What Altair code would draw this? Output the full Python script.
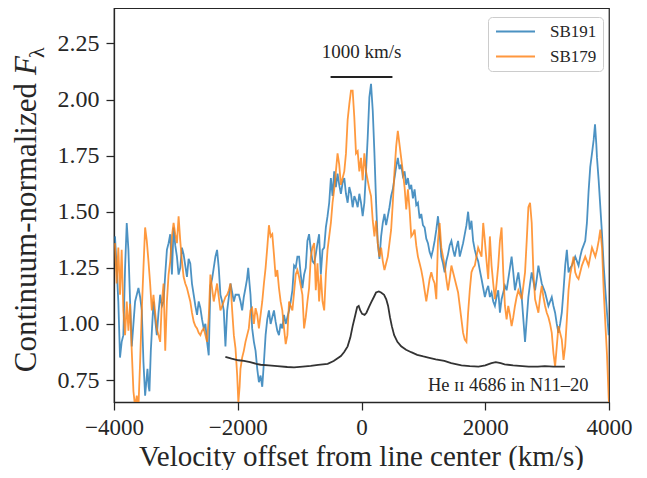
import altair as alt
import pandas as pd

# ---------------- data ----------------
sb191_v = [-3984, -3957, -3930, -3903, -3876, -3849, -3821, -3794, -3767, -3740, -3713, -3686, -3659, -3605,
           -3578, -3551, -3524, -3497, -3478, -3459, -3440, -3427, -3405, -3362, -3335, -3308, -3281, -3254,
           -3226, -3199, -3172, -3145, -3118, -3091, -3064, -3037, -3010, -2983, -2956, -2929, -2902, -2875,
           -2848, -2821, -2794, -2767, -2740, -2712, -2685, -2658, -2631, -2604, -2577, -2550, -2523, -2496,
           -2469, -2442, -2415, -2388, -2361, -2334, -2307, -2280, -2253, -2226, -2199, -2171, -2144, -2117,
           -2090, -2063, -2036, -2009, -1983, -1955, -1929, -1902, -1875, -1850, -1831, -1810, -1794, -1767,
           -1739, -1712, -1685, -1658, -1631, -1604, -1577, -1550, -1523, -1496, -1469, -1442, -1415, -1388,
           -1361, -1334, -1307, -1280, -1252, -1225, -1198, -1171, -1144, -1117, -1090, -1063, -1036, -1009,
           -982, -955, -928, -901, -874, -847, -819, -793, -765, -739, -711, -685, -657, -630, -603, -576,
           -549, -522, -495, -468, -441, -414, -387, -360, -333, -305, -278, -251, -224, -197, -170, -143,
           -116, -89, -62, -35, -8, 19, 46, 73, 100, 127, 154, 182, 209, 236, 263, 290, 317, 344, 371, 398,
           425, 452, 479, 506, 533, 560, 587, 614, 641, 668, 696, 723, 750, 777, 804, 831, 858, 885, 912,
           939, 966, 993, 1020, 1047, 1074, 1101, 1128, 1155, 1182, 1209, 1236, 1263, 1290, 1317, 1344,
           1371, 1398, 1425, 1453, 1480, 1507, 1534, 1561, 1588, 1615, 1642, 1669, 1696, 1723, 1750, 1777,
           1804, 1831, 1858, 1885, 1912, 1940, 1967, 1994, 2021, 2048, 2075, 2102, 2129, 2156, 2183, 2210,
           2237, 2264, 2291, 2318, 2345, 2372, 2399, 2426, 2453, 2480, 2507, 2535, 2562, 2589, 2616, 2643,
           2670, 2697, 2724, 2751, 2778, 2805, 2832, 2859, 2886, 2913, 2940, 2967, 2994, 3021, 3048, 3075,
           3102, 3129, 3156, 3183, 3210, 3237, 3265, 3292, 3319, 3346, 3373, 3400, 3427, 3454, 3481, 3508,
           3535, 3562, 3589, 3616, 3643, 3670, 3697, 3725, 3752, 3774, 3795, 3806, 3833, 3860, 3887, 3914,
           3941, 3968, 3995, 4010, 4030]
sb191_f = [1.39, 1.25, 1.10, 0.85, 0.92, 0.95, 1.25, 1.45, 1.33, 1.10, 0.90, 1.00, 1.10, 1.16,
           1.12, 1.06, 0.83, 0.68, 0.74, 0.80, 0.72, 0.70, 0.88, 1.10, 1.02, 0.95, 1.05, 1.13,
           1.08, 1.10, 1.22, 1.33, 1.36, 1.40, 1.22, 1.43, 1.35, 1.30, 1.22, 1.25, 1.34, 1.31,
           1.26, 1.21, 1.29, 1.27, 1.18, 1.13, 1.08, 1.04, 1.10, 1.07, 1.02, 0.98, 1.00, 0.92,
           0.86, 1.17, 1.20, 1.25, 1.30, 1.33, 1.25, 1.13, 1.10, 1.06, 0.90, 1.06, 1.12, 1.18,
           1.14, 1.10, 1.13, 1.13, 1.13, 1.10, 1.06, 1.12, 1.16, 1.20, 1.25, 1.18, 1.13, 0.98,
           0.92, 0.88, 0.80, 0.74, 0.77, 0.72, 0.83, 0.95, 1.02, 1.06, 1.00, 1.03, 1.06, 1.01,
           0.97, 0.95, 1.00, 0.98, 1.04, 1.00, 1.03, 1.06, 1.10, 1.15, 1.26, 1.25, 1.30, 1.30,
           1.22, 1.16, 1.22, 1.25, 1.37, 1.40, 1.33, 1.28, 1.27, 1.31, 1.36, 1.40, 1.22, 1.33, 1.34, 1.43,
           1.48, 1.54, 1.65, 1.57, 1.68, 1.61, 1.67, 1.62, 1.58, 1.63, 1.65, 1.58, 1.54, 1.61, 1.58, 1.52,
           1.57, 1.55, 1.52, 1.58, 1.54, 1.48, 1.54, 1.68, 1.83, 2.01, 2.07, 1.95, 1.76, 1.54, 1.36, 1.29,
           1.39, 1.45, 1.49, 1.44,
           1.48, 1.52, 1.57, 1.60, 1.65, 1.70, 1.74, 1.69, 1.71, 1.66, 1.68, 1.62, 1.65, 1.60, 1.62, 1.56,
           1.60, 1.53, 1.54,
           1.47, 1.49, 1.44, 1.43, 1.38, 1.36, 1.32, 1.30, 1.33, 1.37, 1.42, 1.48, 1.40, 1.30, 1.27, 1.23,
           1.28, 1.31, 1.35, 1.37, 1.33, 1.30, 1.34, 1.37, 1.30, 1.33, 1.36, 1.40, 1.44, 1.50, 1.42, 1.46,
           1.37, 1.33, 1.30, 1.28, 1.24, 1.20, 1.16, 1.12, 1.15, 1.17, 1.12, 1.14, 1.10, 1.08, 1.12, 1.15,
           1.05, 1.11, 1.14, 1.17, 1.15, 1.20, 1.25, 1.30, 1.23, 1.15, 1.19, 1.23, 1.17, 1.12, 1.02, 0.92,
           1.02, 1.12, 1.18, 1.23, 1.19, 1.15, 1.20, 1.26, 1.22, 1.18, 1.16, 1.14, 1.11, 1.08, 1.10, 1.12,
           1.08, 1.05, 1.00, 0.96, 1.00, 1.05, 1.15, 1.26, 1.33, 1.23, 1.25, 1.26, 1.28, 1.30, 1.28, 1.26,
           1.30, 1.33, 1.35, 1.37, 1.45, 1.59, 1.70, 1.76, 1.82, 1.89, 1.80, 1.74, 1.64, 1.52, 1.40, 1.26,
           1.15, 1.05, 0.95, 1.00, 0.90]

sb179_v = [-3984, -3957, -3930, -3903, -3876, -3849, -3821, -3794, -3767, -3740, -3713, -3686, -3659, -3632,
           -3605, -3578, -3551, -3524, -3497, -3470, -3443, -3416, -3389, -3362, -3335, -3308, -3281, -3254,
           -3226, -3199, -3172, -3145, -3118, -3091, -3064, -3037, -3010, -2983, -2956, -2929, -2902, -2875,
           -2848, -2821, -2794, -2767, -2740, -2712, -2685, -2658, -2631, -2604, -2577, -2550, -2523, -2496,
           -2469, -2442, -2415, -2388, -2361, -2334, -2307, -2280, -2253, -2226, -2199, -2171, -2144, -2117,
           -2090, -2063, -2036, -2009, -1990, -1970, -1956, -1929, -1902, -1875, -1848, -1821, -1794, -1767,
           -1739, -1712, -1685, -1658, -1631, -1604, -1577, -1550, -1523, -1496, -1469, -1442, -1415, -1388,
           -1361, -1334, -1307, -1280, -1252, -1225, -1198, -1171, -1144, -1117, -1090, -1063, -1036, -1009,
           -982, -955, -928, -901, -874, -847, -819, -793, -765, -739, -711, -685, -657, -630, -603, -576,
           -549, -522, -495, -468, -441, -414, -387, -360, -333, -305, -278, -251, -224, -197, -170, -143,
           -116, -89, -62, -35, -8, 19, 46, 73, 100, 127, 154, 182, 209, 236, 263, 290, 317, 344, 371, 398,
           425, 452, 479, 506, 533, 560, 587, 614, 641, 668, 696, 723, 750, 777, 804, 831, 858, 885, 912,
           939, 966, 993, 1020, 1047, 1074, 1101, 1128, 1155, 1182, 1209, 1236, 1263, 1290, 1317, 1344,
           1371, 1398, 1425, 1453, 1480, 1507, 1534, 1561, 1588, 1615, 1642, 1669, 1696, 1723, 1750, 1777,
           1804, 1831, 1858, 1885, 1912, 1940, 1967, 1994, 2021, 2048, 2075, 2102, 2129, 2156, 2183, 2210,
           2237, 2264, 2291, 2318, 2345, 2372, 2399, 2426, 2453, 2480, 2507, 2535, 2562, 2589, 2616, 2643,
           2670, 2697, 2724, 2751, 2778, 2805, 2832, 2859, 2886, 2913, 2940, 2967, 2994, 3021, 3048, 3075,
           3102, 3129, 3156, 3183, 3210, 3237, 3265, 3292, 3319, 3346, 3373, 3400, 3427, 3454, 3481, 3508,
           3535, 3562, 3589, 3616, 3643, 3670, 3697, 3725, 3752, 3779, 3806, 3833, 3860, 3887, 3914, 3941,
           3968, 3995, 4010]
sb179_f = [1.36, 1.18, 1.34, 1.13, 1.33, 1.06, 0.95, 1.10, 0.97, 1.09, 0.88, 0.70, 0.63, 0.68,
           0.63, 0.83, 1.06, 1.25, 1.43, 1.37, 1.28, 1.18, 1.06, 1.13, 1.05, 0.98, 0.95, 0.92,
           1.10, 1.18, 0.88, 1.10, 1.22, 1.28, 1.39, 1.45, 1.40, 1.36, 1.48, 1.37, 1.28, 1.21,
           1.18, 1.16, 1.13, 1.10, 1.05, 1.01, 0.99, 0.98, 0.96, 0.95, 0.97, 0.98, 0.95, 0.92,
           1.03, 1.22, 1.16, 1.10, 1.14, 1.18, 1.12, 1.06, 1.08, 1.10, 1.12, 1.13, 1.15, 1.18,
           1.06, 0.95, 0.89, 0.77, 0.65, 0.72, 0.80, 0.85, 0.88, 0.92, 0.95, 0.98, 1.06, 1.07,
           1.00, 1.07, 1.04, 0.98, 1.04, 1.10, 1.18, 1.25, 1.34, 1.44, 1.39, 1.40, 1.31, 1.21,
           1.24, 1.16, 1.10, 1.06, 0.98, 0.91, 0.95, 1.10, 1.08, 1.06, 1.14, 1.22, 1.24, 1.21,
           1.17, 1.13, 0.98, 1.03, 1.10, 1.16, 1.30, 1.34, 1.36, 1.15, 1.27, 1.10, 1.22, 1.10, 1.06, 1.22,
           1.33, 1.39, 1.45, 1.54, 1.60, 1.68, 1.76, 1.71, 1.62, 1.65, 1.68, 1.76, 1.91, 1.98, 2.04, 2.04,
           1.92, 1.76, 1.77, 1.68, 1.74, 1.64, 1.76, 1.68, 1.64, 1.60, 1.57, 1.46, 1.39, 1.46, 1.36, 1.30,
           1.34, 1.28, 1.24, 1.27,
           1.30, 1.36, 1.42, 1.54, 1.68, 1.79, 1.86, 1.80, 1.74, 1.68, 1.61, 1.51, 1.60, 1.51, 1.39, 1.40,
           1.42, 1.35, 1.30,
           1.27, 1.24, 1.20, 1.15, 1.10, 1.15, 1.20, 1.23, 1.20, 1.18, 1.11, 1.37, 1.45, 1.34, 1.30, 1.26,
           1.20, 1.15, 1.20, 1.26, 1.23, 1.20, 1.17, 1.14, 1.08, 1.02, 0.96, 0.93, 0.92, 1.05, 1.15, 1.23,
           1.25, 1.26, 1.30, 1.34, 1.32, 1.30, 1.45, 1.37, 1.28, 1.20, 1.39, 1.26, 1.18, 1.11, 1.18, 1.26,
           1.37, 1.43, 1.23, 1.08, 1.02, 1.08, 1.04, 0.99, 1.03, 1.08, 1.12, 1.15, 1.13, 1.11, 1.17, 1.23,
           1.37, 1.52, 1.54, 1.45, 1.23, 1.11, 1.08, 1.05, 1.12, 1.17, 1.12, 1.08, 1.05, 1.03, 1.00, 0.96,
           0.87, 0.81, 0.90, 0.99, 0.96, 0.93, 0.84, 0.90, 1.02, 1.15, 1.22, 1.26, 1.30, 1.23, 1.21, 1.20,
           1.23, 1.26, 1.28, 1.30, 1.28, 1.26, 1.30, 1.34, 1.32, 1.30, 1.33, 1.37, 1.42, 1.34, 1.15, 1.00,
           0.86, 0.67, 0.60]

heii_v = [-2200, -2100, -1990, -1900, -1800, -1700, -1630, -1500, -1360, -1200, -1090, -950, -820, -700,
          -547, -450, -333, -280, -224, -180, -143, -100, -70, -45, -20, 10, 50, 80, 120, 154, 200, 235,
          280, 316, 365, 400, 430, 460, 490, 528, 580, 641, 720, 803, 900, 1000, 1079, 1200, 1339, 1450,
          1615, 1750, 1891, 2000, 2100, 2170, 2250, 2313, 2450, 2600, 2702, 2850, 2962, 3100, 3287]
heii_f = [0.853, 0.845, 0.838, 0.835, 0.830, 0.822, 0.818, 0.815, 0.812, 0.808, 0.806, 0.810, 0.813, 0.817,
          0.822, 0.835, 0.857, 0.875, 0.900, 0.940, 0.990, 1.040, 1.075, 1.080, 1.060, 1.045, 1.040, 1.050,
          1.075, 1.095, 1.120, 1.140, 1.145, 1.140, 1.130, 1.110, 1.080, 1.030, 0.990, 0.950, 0.920, 0.900,
          0.885, 0.874, 0.862, 0.855, 0.850, 0.842, 0.835, 0.825, 0.815, 0.812, 0.810, 0.815, 0.825, 0.830,
          0.825, 0.820, 0.815, 0.812, 0.810, 0.810, 0.812, 0.810, 0.810]

series_names = ["SB191", "SB179"]
series_colors = ["#1f77b4", "#ff7f0e"]
scalebar_v = [-500, 500]
scalebar_f = 2.10
scalebar_label = "1000 km/s"
scalebar_label_f = 2.212
heii_label = "He \u026a\u026a 4686 in N11\u201320"
heii_label_pos = (3670, 0.728)
x_ticks = [-4000, -2000, 0, 2000, 4000]
y_ticks = [0.75, 1.00, 1.25, 1.50, 1.75, 2.00, 2.25]
x_title = "Velocity offset from line center (km/s)"
y_title_main = "Continuum-normalized"
y_title_var = "F"
y_title_sub = "\u03bb"

FONT = "Liberation Serif"
INK = "#262626"

# ---------------- tables ----------------
df_blue = pd.DataFrame({"v": sb191_v, "f": sb191_f, "s": series_names[0]})
df_orange = pd.DataFrame({"v": sb179_v, "f": sb179_f, "s": series_names[1]})
df_heii = pd.DataFrame({"v": heii_v, "f": heii_f})
df_bar = pd.DataFrame({"v": [scalebar_v[0]], "v2": [scalebar_v[1]], "f": [scalebar_f]})
df_barlabel = pd.DataFrame({"v": [0], "f": [scalebar_label_f], "t": [scalebar_label]})
df_heiilabel = pd.DataFrame({"v": [heii_label_pos[0]], "f": [heii_label_pos[1]], "t": [heii_label]})

x_scale = alt.Scale(domain=[-4000, 4000], nice=False, zero=False)
y_scale = alt.Scale(domain=[0.652, 2.408], nice=False, zero=False)
color_scale = alt.Scale(domain=series_names, range=series_colors)

x_axis = alt.Axis(values=x_ticks, format="d", title=x_title, grid=False,
                  labelFlush=False, labelOverlap=False, labelPadding=6, labelFontSize=23,
                  titleX=247, titleY=63, titleBaseline="alphabetic", titleFontSize=29)
y_axis = alt.Axis(values=y_ticks, format=".2f", title=None, grid=False,
                  labelFlush=False, labelOverlap=False, labelPadding=7)

legend = alt.Legend(title=None, orient="none", legendX=374, legendY=9,
                    symbolType="M-1,0H5", symbolSize=169, symbolStrokeWidth=2,
                    symbolOpacity=0.8, labelFont=FONT, labelFontSize=17,
                    labelColor=INK, labelOffset=39, rowPadding=7, padding=6,
                    strokeColor="#cccccc", fillColor="white", cornerRadius=4)

X = alt.X("v:Q", scale=x_scale, axis=x_axis)
Y = alt.Y("f:Q", scale=y_scale, axis=y_axis)
C = alt.Color("s:N", scale=color_scale, legend=legend)

blue = alt.Chart(df_blue).mark_line(strokeWidth=1.8, opacity=0.8, clip=True).encode(x=X, y=Y, color=C)
orange = alt.Chart(df_orange).mark_line(strokeWidth=1.8, opacity=0.8, clip=True).encode(x=X, y=Y, color=C)
heii = alt.Chart(df_heii).mark_line(strokeWidth=1.8, color="#333333", clip=True).encode(x=X, y=Y)
bar = alt.Chart(df_bar).mark_rule(strokeWidth=2, color="#222222").encode(x=X, x2="v2:Q", y=Y)
barlabel = alt.Chart(df_barlabel).mark_text(font=FONT, fontSize=19, color=INK, baseline="middle").encode(
    x=X, y=Y, text="t:N")
heiilabel = alt.Chart(df_heiilabel).mark_text(font=FONT, fontSize=18.5, color=INK, align="right",
                                               baseline="middle").encode(x=X, y=Y, text="t:N")

ytitle_main = alt.Chart(pd.DataFrame({"t": [y_title_main]})).mark_text(
    font=FONT, fontSize=31, color=INK, angle=270, align="right", baseline="alphabetic").encode(
    x=alt.value(-78), y=alt.value(75), text="t:N")
ytitle_var = alt.Chart(pd.DataFrame({"t": [y_title_var]})).mark_text(
    font=FONT, fontSize=31, fontStyle="italic", color=INK, angle=270, align="left",
    baseline="alphabetic").encode(x=alt.value(-78), y=alt.value(67), text="t:N")
ytitle_sub = alt.Chart(pd.DataFrame({"t": [y_title_sub]})).mark_text(
    font=FONT, fontSize=22, color=INK, angle=270, align="left", baseline="alphabetic").encode(
    x=alt.value(-70), y=alt.value(50), text="t:N")

chart = alt.layer(blue, orange, heii, bar, barlabel, heiilabel, ytitle_main, ytitle_var, ytitle_sub).properties(
    width=495, height=394,
    autosize=alt.AutoSizeParams(type="none"),
    padding={"left": 106, "top": 0, "right": 30, "bottom": 68},
).configure_view(
    stroke=INK, strokeWidth=1.25
).configure_axis(
    domainColor=INK, domainWidth=1.25, tickColor=INK, tickWidth=1.25, tickSize=8,
    labelFont=FONT, labelFontSize=24, labelColor=INK,
    titleFont=FONT, titleFontSize=30, titleFontWeight="normal", titleColor=INK
)

chart.save("out.html", embed_options={"renderer": "svg", "actions": False})
